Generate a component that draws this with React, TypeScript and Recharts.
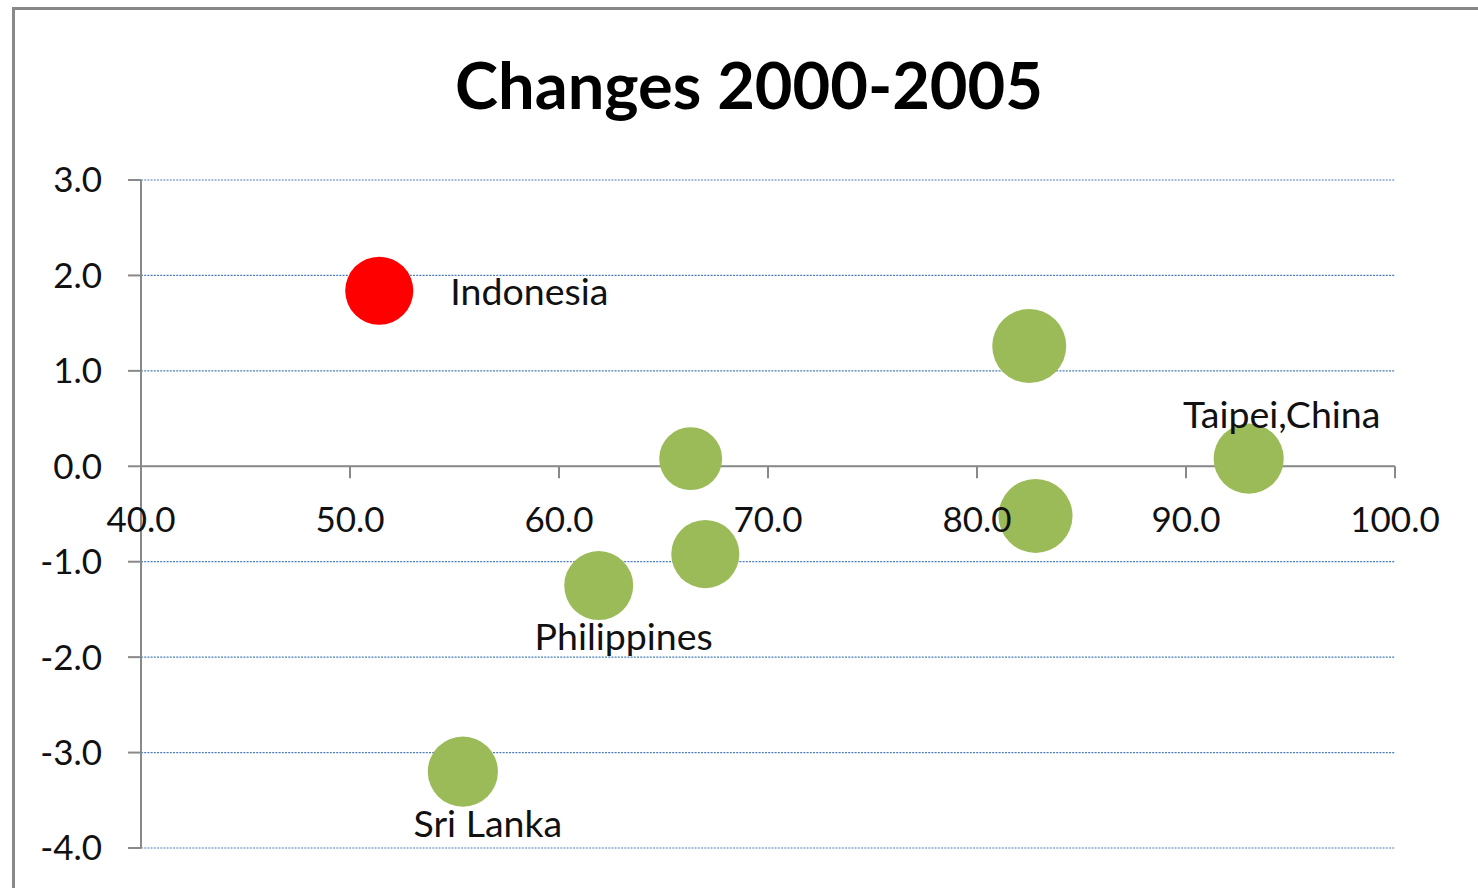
import React from "react";
import {
  ScatterChart,
  Scatter,
  XAxis,
  YAxis,
  ZAxis,
  CartesianGrid,
  ReferenceLine,
  ReferenceDot,
  Cell,
} from "recharts";

// bubble data
const countries = ["Indonesia", "", "", "Taipei,China", "", "", "Philippines", "Sri Lanka"];
const xValues = [51.4, 82.5, 66.3, 93.0, 82.8, 67.0, 61.9, 55.4];
const yValues = [1.84, 1.26, 0.08, 0.08, -0.52, -0.92, -1.25, -3.2];
const bubbleSizes = [11.6, 13.7, 9.9, 12.3, 13.7, 11.6, 11.9, 12.3];
const labelSides = ["right", "", "", "top", "", "", "bottom", "bottom"];

const xTicks = [40, 50, 60, 70, 80, 90, 100];
const yTicks = [-4, -3, -2, -1, 0, 1, 2, 3];

const HIGHLIGHT = "Indonesia";
const RED = "#FF0000";
const GREEN = "#9BBB59";
const AXIS = "#898989";
const FONT = "Lato, 'Open Sans', sans-serif";

const points = countries.map((name, i) => ({
  name,
  x: xValues[i],
  y: yValues[i],
  z: bubbleSizes[i],
  side: labelSides[i],
}));

function Bubble(props: any) {
  const { cx, cy, width, fill, payload } = props;
  const r = width / 2;
  let label = null;
  if (payload.name) {
    if (payload.side === "right") {
      label = (
        <text x={cx + r + 37} y={cy + 14} textAnchor="start" fontSize={37.5} fill="#111" fontFamily={FONT}>
          {payload.name}
        </text>
      );
    } else if (payload.side === "top") {
      label = (
        <text x={cx + 33} y={cy - r + 4} textAnchor="middle" fontSize={37.5} fill="#111" fontFamily={FONT}>
          {payload.name}
        </text>
      );
    } else {
      label = (
        <text x={cx + 25} y={cy + r + 30} textAnchor="middle" fontSize={37.5} fill="#111" fontFamily={FONT}>
          {payload.name}
        </text>
      );
    }
  }
  return (
    <g>
      <circle cx={cx} cy={cy} r={r} fill={fill} />
      {label}
    </g>
  );
}

function XTick(props: any) {
  const { cx, cy, value } = props;
  return (
    <g>
      <line x1={cx} y1={cy} x2={cx} y2={cy + 12} stroke={AXIS} strokeWidth={2} />
      <text x={cx} y={cy + 66} textAnchor="middle" fontSize={35} fill="#111" fontFamily={FONT}>
        {value.toFixed(1)}
      </text>
    </g>
  );
}

export default function App() {
  return (
    <div
      style={{
        position: "absolute",
        left: 0,
        top: 0,
        width: 1478,
        height: 888,
        overflow: "hidden",
        background: "#fff",
      }}
    >
      <div
        style={{
          position: "absolute",
          left: 12,
          top: 7,
          width: 1600,
          height: 1000,
          border: "3px solid #888",
          boxSizing: "border-box",
        }}
      />
      <div
        style={{
          position: "absolute",
          left: 0,
          top: 52,
          width: 1498,
          textAlign: "center",
          fontFamily: FONT,
          fontWeight: 700,
          fontSize: 65,
          lineHeight: 1,
          color: "#000",
        }}
      >
        Changes 2000-2005
      </div>
      <div style={{ position: "absolute", left: 0, top: 0 }}>
        <ScatterChart width={1478} height={888} margin={{ top: 180, right: 83, bottom: 40, left: 41 }}>
          <CartesianGrid
            horizontal
            vertical={false}
            stroke="#4A7EBB"
            strokeWidth={1.2}
            strokeDasharray="2 1.2"
          />
          <XAxis type="number" dataKey="x" domain={[40, 100]} ticks={xTicks} hide />
          <YAxis
            type="number"
            dataKey="y"
            domain={[-4, 3]}
            ticks={yTicks}
            width={100}
            interval={0}
            tickFormatter={(v: number) => v.toFixed(1)}
            axisLine={{ stroke: AXIS, strokeWidth: 2 }}
            tickLine={{ stroke: AXIS, strokeWidth: 2 }}
            tickSize={13}
            tickMargin={26}
            tick={{ fontSize: 35, fill: "#111", fontFamily: FONT }}
          />
          <ZAxis type="number" dataKey="z" domain={[0, 14]} range={[0, 4398]} />
          <ReferenceLine y={0} stroke={AXIS} strokeWidth={2} />
          <Scatter data={points} shape={<Bubble />} isAnimationActive={false}>
            {points.map((p, i) => (
              <Cell key={i} fill={p.name === HIGHLIGHT ? RED : GREEN} />
            ))}
          </Scatter>
          {xTicks.map((t) => (
            <ReferenceDot key={t} x={t} y={0} r={0} shape={(p: any) => <XTick {...p} value={t} />} />
          ))}
        </ScatterChart>
      </div>
    </div>
  );
}
